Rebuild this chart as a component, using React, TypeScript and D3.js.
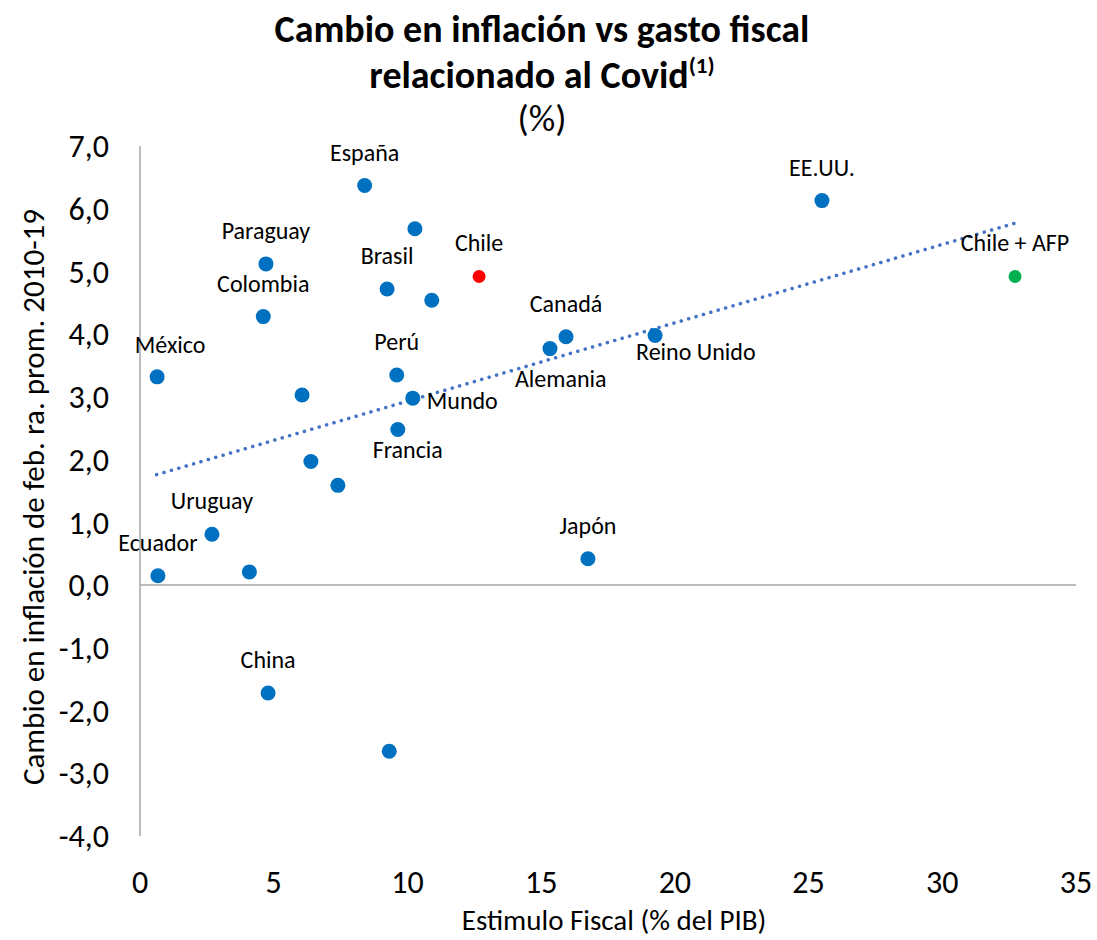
import React from "react";
import * as d3 from "d3";

const names = [
  "México", "Ecuador", "Uruguay", "", "China", "Paraguay", "Colombia", "", "", "",
  "España", "", "Brasil", "", "Perú", "Mundo", "Francia", "", "Canadá", "Alemania",
  "Reino Unido", "Japón", "EE.UU.",
];
const stimulus = [
  0.64, 0.67, 2.69, 4.09, 4.79, 4.71, 4.61, 6.06, 6.39, 7.40,
  8.40, 10.28, 9.24, 10.91, 9.60, 10.20, 9.64, 9.32, 15.93, 15.33,
  19.26, 16.75, 25.5,
];
const inflation = [
  3.32, 0.15, 0.81, 0.21, -1.72, 5.12, 4.28, 3.03, 1.97, 1.59,
  6.37, 5.68, 4.72, 4.54, 3.35, 2.98, 2.48, -2.65, 3.96, 3.77,
  3.98, 0.42, 6.13,
];
const chileNames = ["Chile", "Chile + AFP"];
const chileStimulus = [12.68, 32.72];
const chileInflation = [4.92, 4.92];

const trendX = [0.62, 32.72];
const trendY = [1.76, 5.77];

const xTicks = [0, 5, 10, 15, 20, 25, 30, 35];
const yTicks = [-4, -3, -2, -1, 0, 1, 2, 3, 4, 5, 6, 7];

const titleLine1 = "Cambio en inflación vs gasto fiscal";
const titleLine2 = "relacionado al Covid";
const titleSup = "(1)";
const subtitle = "(%)";
const xTitle = "Estimulo Fiscal (% del PIB)";
const yTitle = "Cambio en inflación de feb. ra. prom. 2010-19";

// label placement (layout, not data)
const labelPos: Record<string, { dx: number; dy: number; anchor?: string }> = {
  "México": { dx: 13, dy: -24 },
  "Mundo": { dx: 14, dy: 11, anchor: "start" },
  "Francia": { dx: 10, dy: 28 },
  "Reino Unido": { dx: -19, dy: 25, anchor: "start" },
  "Alemania": { dx: -35, dy: 38, anchor: "start" },
};

const FONT = "Carlito, Calibri, Lato, 'Open Sans', sans-serif";

export default function App() {
  const W = 1097, H = 940;
  const x = d3.scaleLinear().domain([0, 35]).range([140, 1076]);
  const y = d3.scaleLinear().domain([-4, 7]).range([836, 146]);
  const line = d3.line<number>().x((_, i) => x(trendX[i])).y((d) => y(d));
  const fmt = (v: number) => v.toFixed(1).replace(".", ",");
  const blue = "#0070C0";
  const chileColors = ["#FF0000", "#00B050"];

  const label = (name: string, px: number, py: number, key: string) => {
    if (!name) return null;
    const p = labelPos[name];
    let tx = px, ty = py - 25, anchor = "middle";
    if (p) {
      tx = px + p.dx; ty = py + p.dy; anchor = p.anchor || "middle";
    }
    return (
      <text key={key} x={tx} y={ty} textAnchor={anchor} fontSize={24} fill="#000">
        {name}
      </text>
    );
  };

  return (
    <svg width={W} height={H} style={{ position: "absolute", left: 0, top: 0, background: "#fff" }} fontFamily={FONT}>
      <rect width={W} height={H} fill="#fff" />
      {/* titles */}
      <text x={542} y={42} textAnchor="middle" fontSize={38} fontWeight="bold">{titleLine1}</text>
      <text x={542} y={88} textAnchor="middle" fontSize={38} fontWeight="bold">
        {titleLine2}
        <tspan fontSize={23} dy={-15}>{titleSup}</tspan>
      </text>
      <text x={542} y={131} textAnchor="middle" fontSize={37}>{subtitle}</text>

      {/* axes */}
      <line x1={x(0)} x2={x(0)} y1={y(7)} y2={y(-4)} stroke="#a6a6a6" strokeWidth={1.5} />
      <line x1={x(0)} x2={x(35)} y1={y(0)} y2={y(0)} stroke="#a6a6a6" strokeWidth={1.5} />
      {yTicks.map((t) => (
        <text key={"y" + t} x={109} y={y(t)} dy="0.35em" textAnchor="end" fontSize={32}>{fmt(t)}</text>
      ))}
      {xTicks.map((t) => (
        <text key={"x" + t} x={x(t)} y={893} textAnchor="middle" fontSize={32}>{t}</text>
      ))}
      <text x={614} y={930} textAnchor="middle" fontSize={29}>{xTitle}</text>
      <text transform={`translate(44,497) rotate(-90)`} textAnchor="middle" fontSize={31}>{yTitle}</text>

      {/* trend */}
      <path d={line(trendY) || ""} fill="none" stroke="#4472C4" strokeWidth={3.5} strokeLinecap="round" strokeDasharray="0.1 7.6" />

      {/* points */}
      {stimulus.map((v, i) => (
        <circle key={"p" + i} cx={x(v)} cy={y(inflation[i])} r={7.5} fill={blue} />
      ))}
      {chileStimulus.map((v, i) => (
        <circle key={"c" + i} cx={x(v)} cy={y(chileInflation[i])} r={6.5} fill={chileColors[i]} />
      ))}
      {stimulus.map((v, i) => label(names[i], x(v), y(inflation[i]), "l" + i))}
      {chileStimulus.map((v, i) => label(chileNames[i], x(v), y(chileInflation[i]), "cl" + i))}
    </svg>
  );
}
